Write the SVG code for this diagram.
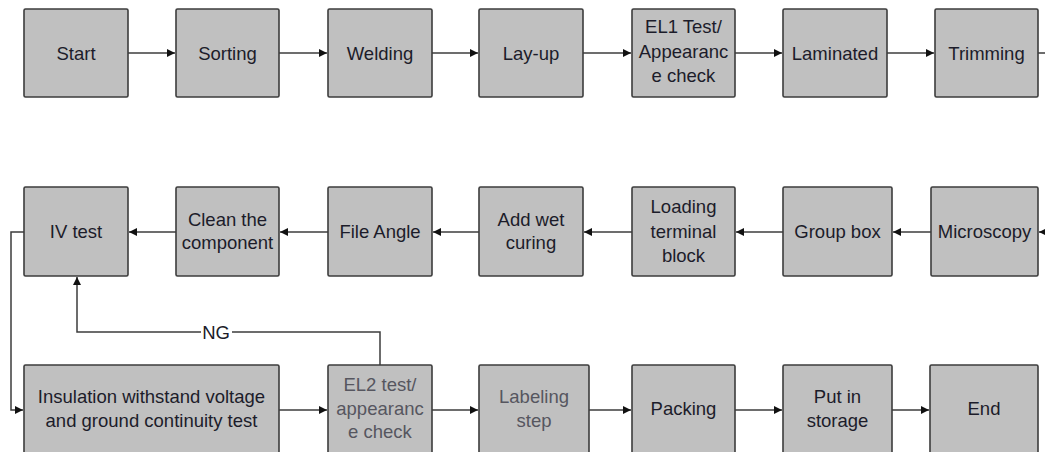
<svg xmlns="http://www.w3.org/2000/svg" width="1045" height="452" viewBox="0 0 1045 452">
<style>
.box{fill:#c0c0c0;stroke:#3c3c3c;stroke-width:1.6}
.t{font-family:"Liberation Sans",Arial,sans-serif;font-size:18.5px;fill:#1c1c2a;text-anchor:middle}
.g{fill:#56565f}
.c{fill:none;stroke:#3c3c3c;stroke-width:1.5}
</style>
<defs>
<marker id="ah" markerUnits="userSpaceOnUse" markerWidth="9" markerHeight="9" refX="8" refY="4" orient="auto">
<path d="M0,0 L8,4 L0,8 z" fill="#111"/>
</marker>
</defs>
<rect width="1045" height="452" fill="#fff"/>
<g id="connectors">
<line class="c" x1="128" y1="53" x2="175" y2="53" marker-end="url(#ah)"/>
<line class="c" x1="279" y1="53" x2="327" y2="53" marker-end="url(#ah)"/>
<line class="c" x1="432" y1="53" x2="478" y2="53" marker-end="url(#ah)"/>
<line class="c" x1="583" y1="53" x2="631" y2="53" marker-end="url(#ah)"/>
<line class="c" x1="735" y1="53" x2="782" y2="53" marker-end="url(#ah)"/>
<line class="c" x1="887" y1="53" x2="934" y2="53" marker-end="url(#ah)"/>
<line class="c" x1="1038" y1="53" x2="1046" y2="53"/>
<line class="c" x1="1046" y1="232" x2="1039" y2="232" marker-end="url(#ah)"/>
<line class="c" x1="931" y1="232" x2="893" y2="232" marker-end="url(#ah)"/>
<line class="c" x1="783" y1="232" x2="736" y2="232" marker-end="url(#ah)"/>
<line class="c" x1="632" y1="232" x2="584" y2="232" marker-end="url(#ah)"/>
<line class="c" x1="479" y1="232" x2="433" y2="232" marker-end="url(#ah)"/>
<line class="c" x1="328" y1="232" x2="280" y2="232" marker-end="url(#ah)"/>
<line class="c" x1="176" y1="232" x2="129" y2="232" marker-end="url(#ah)"/>
<polyline class="c" points="24,232 11,232 11,410 23,410" marker-end="url(#ah)"/>
<polyline class="c" points="380,365 380,332 77,332 77,277" marker-end="url(#ah)"/>
<rect x="201" y="323" width="31" height="18" fill="#fff"/>
<text class="t" x="216" y="339">NG</text>
<line class="c" x1="279" y1="410" x2="327" y2="410" marker-end="url(#ah)"/>
<line class="c" x1="432" y1="410" x2="478" y2="410" marker-end="url(#ah)"/>
<line class="c" x1="589" y1="410" x2="631" y2="410" marker-end="url(#ah)"/>
<line class="c" x1="735" y1="410" x2="782" y2="410" marker-end="url(#ah)"/>
<line class="c" x1="892" y1="410" x2="929" y2="410" marker-end="url(#ah)"/>
</g>
<g id="start"><rect class="box" x="24" y="9" width="104" height="88" rx="1.5"/><text class="t" x="76" y="59.5">Start</text></g>
<g id="sorting"><rect class="box" x="176" y="9" width="103" height="88" rx="1.5"/><text class="t" x="227.5" y="59.5">Sorting</text></g>
<g id="welding"><rect class="box" x="328" y="9" width="104" height="88" rx="1.5"/><text class="t" x="380" y="59.5">Welding</text></g>
<g id="layup"><rect class="box" x="479" y="9" width="104" height="88" rx="1.5"/><text class="t" x="531" y="59.5">Lay-up</text></g>
<g id="el1"><rect class="box" x="632" y="9" width="103" height="88" rx="1.5"/><text class="t" x="683.5" y="33">EL1 Test/</text><text class="t" x="683.5" y="58">Appearanc</text><text class="t" x="683.5" y="82">e check</text></g>
<g id="laminated"><rect class="box" x="783" y="9" width="104" height="88" rx="1.5"/><text class="t" x="835" y="59.5">Laminated</text></g>
<g id="trimming"><rect class="box" x="935" y="9" width="103" height="88" rx="1.5"/><text class="t" x="986.5" y="59.5">Trimming</text></g>
<g id="ivtest"><rect class="box" x="24" y="187" width="104" height="89" rx="1.5"/><text class="t" x="76" y="238">IV test</text></g>
<g id="clean"><rect class="box" x="176" y="187" width="103" height="89" rx="1.5"/><text class="t" x="227.5" y="226">Clean the</text><text class="t" x="227.5" y="249">component</text></g>
<g id="fileangle"><rect class="box" x="328" y="187" width="104" height="89" rx="1.5"/><text class="t" x="380" y="238">File Angle</text></g>
<g id="addwet"><rect class="box" x="479" y="187" width="104" height="89" rx="1.5"/><text class="t" x="531" y="226">Add wet</text><text class="t" x="531" y="249">curing</text></g>
<g id="loading"><rect class="box" x="632" y="187" width="103" height="89" rx="1.5"/><text class="t" x="683.5" y="213">Loading</text><text class="t" x="683.5" y="237.5">terminal</text><text class="t" x="683.5" y="262">block</text></g>
<g id="groupbox"><rect class="box" x="783" y="187" width="109" height="89" rx="1.5"/><text class="t" x="837.5" y="238">Group box</text></g>
<g id="microscopy"><rect class="box" x="931" y="187" width="107" height="89" rx="1.5"/><text class="t" x="984.5" y="238">Microscopy</text></g>
<g id="insulation"><rect class="box" x="24" y="365" width="255" height="90" rx="1.5"/><text class="t" x="151.5" y="403">Insulation withstand voltage</text><text class="t" x="151.5" y="427">and ground continuity test</text></g>
<g id="el2"><rect class="box" x="328" y="365" width="104" height="90" rx="1.5"/><text class="t g" x="380" y="391">EL2 test/</text><text class="t g" x="380" y="414.5">appearanc</text><text class="t g" x="380" y="438">e check</text></g>
<g id="labeling"><rect class="box" x="479" y="365" width="110" height="90" rx="1.5"/><text class="t g" x="534" y="403">Labeling</text><text class="t g" x="534" y="427">step</text></g>
<g id="packing"><rect class="box" x="632" y="365" width="103" height="90" rx="1.5"/><text class="t" x="683.5" y="415">Packing</text></g>
<g id="storage"><rect class="box" x="783" y="365" width="109" height="90" rx="1.5"/><text class="t" x="837.5" y="403">Put in</text><text class="t" x="837.5" y="427">storage</text></g>
<g id="end"><rect class="box" x="930" y="365" width="108" height="90" rx="1.5"/><text class="t" x="984" y="415">End</text></g>
</svg>
